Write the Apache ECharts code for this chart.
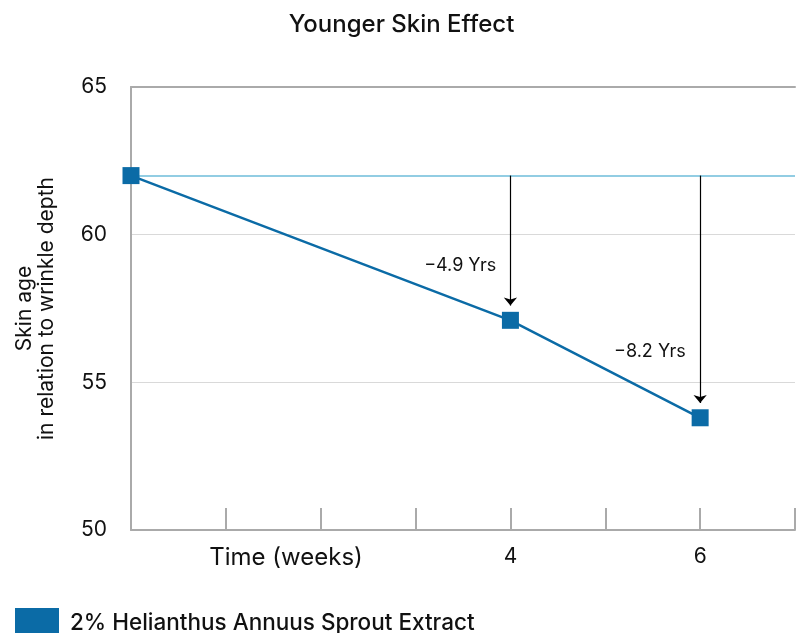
<!DOCTYPE html>
<html>
<head>
<meta charset="utf-8">
<script src="https://cdn.jsdelivr.net/npm/echarts@6/dist/echarts.min.js"></script>
<style>html,body{margin:0;padding:0;background:#fff}#c{width:803px;height:633px}</style>
</head>
<body>
<div id="c"></div>
<script>
const titleText = 'Younger Skin Effect';
const seriesName = '2% Helianthus Annuus Sprout Extract';
const weeks = [0, 4, 6];
const skinAge = [62, 57.1, 53.8];
const baseline = 62;
const arrowEnds = [[4, 57.6], [6, 54.3]];
const annotations = [
  { coord: [3.47, 58.94], text: '\u22124.9 Yrs' },
  { coord: [5.47, 56.03], text: '\u22128.2 Yrs' }
];
const xLabelShow = { 4: '4', 6: '6' };
const xName = 'Time (weeks)';
const yName = 'Skin age\nin relation to wrinkle depth';

const FONT = 'Inter, "Noto Sans", sans-serif';
const chart = echarts.init(document.getElementById('c'), null, { renderer: 'canvas' });
chart.setOption({
  animation: false,
  textStyle: { fontFamily: FONT },
  title: {
    text: titleText, left: 'center', top: 8,
    textStyle: { fontFamily: FONT, fontSize: 24, fontWeight: 500, color: '#111' }
  },
  legend: {
    left: 10, top: 603, itemWidth: 44, itemHeight: 30, itemGap: 10,
    icon: 'rect',
    textStyle: { fontFamily: FONT, fontSize: 22.5, fontWeight: 500, color: '#111', padding: [7, 0, 0, 6] },
    data: [seriesName]
  },
  grid: { left: 131, right: 8, top: 87, bottom: 103, containLabel: false },
  xAxis: [{
    type: 'value', min: 0, max: 7, interval: 1,
    axisLine: { show: true, lineStyle: { color: '#aaaaaa', width: 2 } },
    axisTick: { show: true, inside: true, length: 22, lineStyle: { color: '#aaaaaa', width: 2 } },
    splitLine: { show: false },
    axisLabel: {
      margin: 16, fontSize: 21, color: '#111', fontFamily: FONT,
      formatter: v => xLabelShow[v] || ''
    },
    name: xName, nameLocation: 'middle', nameGap: 16, nameMoveOverlap: false,
    nameTextStyle: { fontSize: 24, color: '#111', fontFamily: FONT, padding: [0, 354, 0, 0] }
  }, {
    type: 'value', min: 0, max: 7, position: 'top',
    axisLine: { show: true, lineStyle: { color: '#aaaaaa', width: 2 } },
    axisTick: { show: false }, axisLabel: { show: false }, splitLine: { show: false }
  }],
  yAxis: {
    type: 'value', min: 50, max: 65, interval: 5,
    axisLine: { show: true, lineStyle: { color: '#aaaaaa', width: 2 } },
    axisTick: { show: false },
    splitLine: { show: true, lineStyle: { color: '#d9d9d9', width: 1 } },
    axisLabel: { margin: 24, fontSize: 21, color: '#111', fontFamily: FONT },
    name: yName, nameLocation: 'middle', nameGap: 73, nameRotate: 90,
    nameTextStyle: { fontSize: 21, color: '#111', fontFamily: FONT, lineHeight: 22 }
  },
  series: [{
    name: seriesName, type: 'line',
    data: weeks.map((w, i) => [w, skinAge[i]]),
    symbol: 'rect', symbolSize: 17, z: 5,
    lineStyle: { color: '#0b6ba6', width: 2.5 },
    itemStyle: { color: '#0b6ba6' },
    markLine: {
      silent: true, animation: false,
      symbol: ['none', 'none'],
      data: [
        { yAxis: baseline, lineStyle: { color: '#92cde3', width: 2, type: 'solid' }, label: { show: false } },
        ...arrowEnds.map(e => [
          { coord: [e[0], baseline], symbol: 'none' },
          { coord: e, symbol: 'arrow', symbolSize: [10, 8] }
        ])
      ],
      lineStyle: { color: '#000', width: 1.2, type: 'solid' },
      label: { show: false }
    },
    markPoint: {
      silent: true, symbol: 'circle', symbolSize: 0,
      data: annotations.map(a => ({
        coord: a.coord,
        label: { show: true, formatter: a.text, fontSize: 18, color: '#111', fontFamily: FONT, position: 'inside' }
      }))
    }
  }]
});
</script>
</body>
</html>
